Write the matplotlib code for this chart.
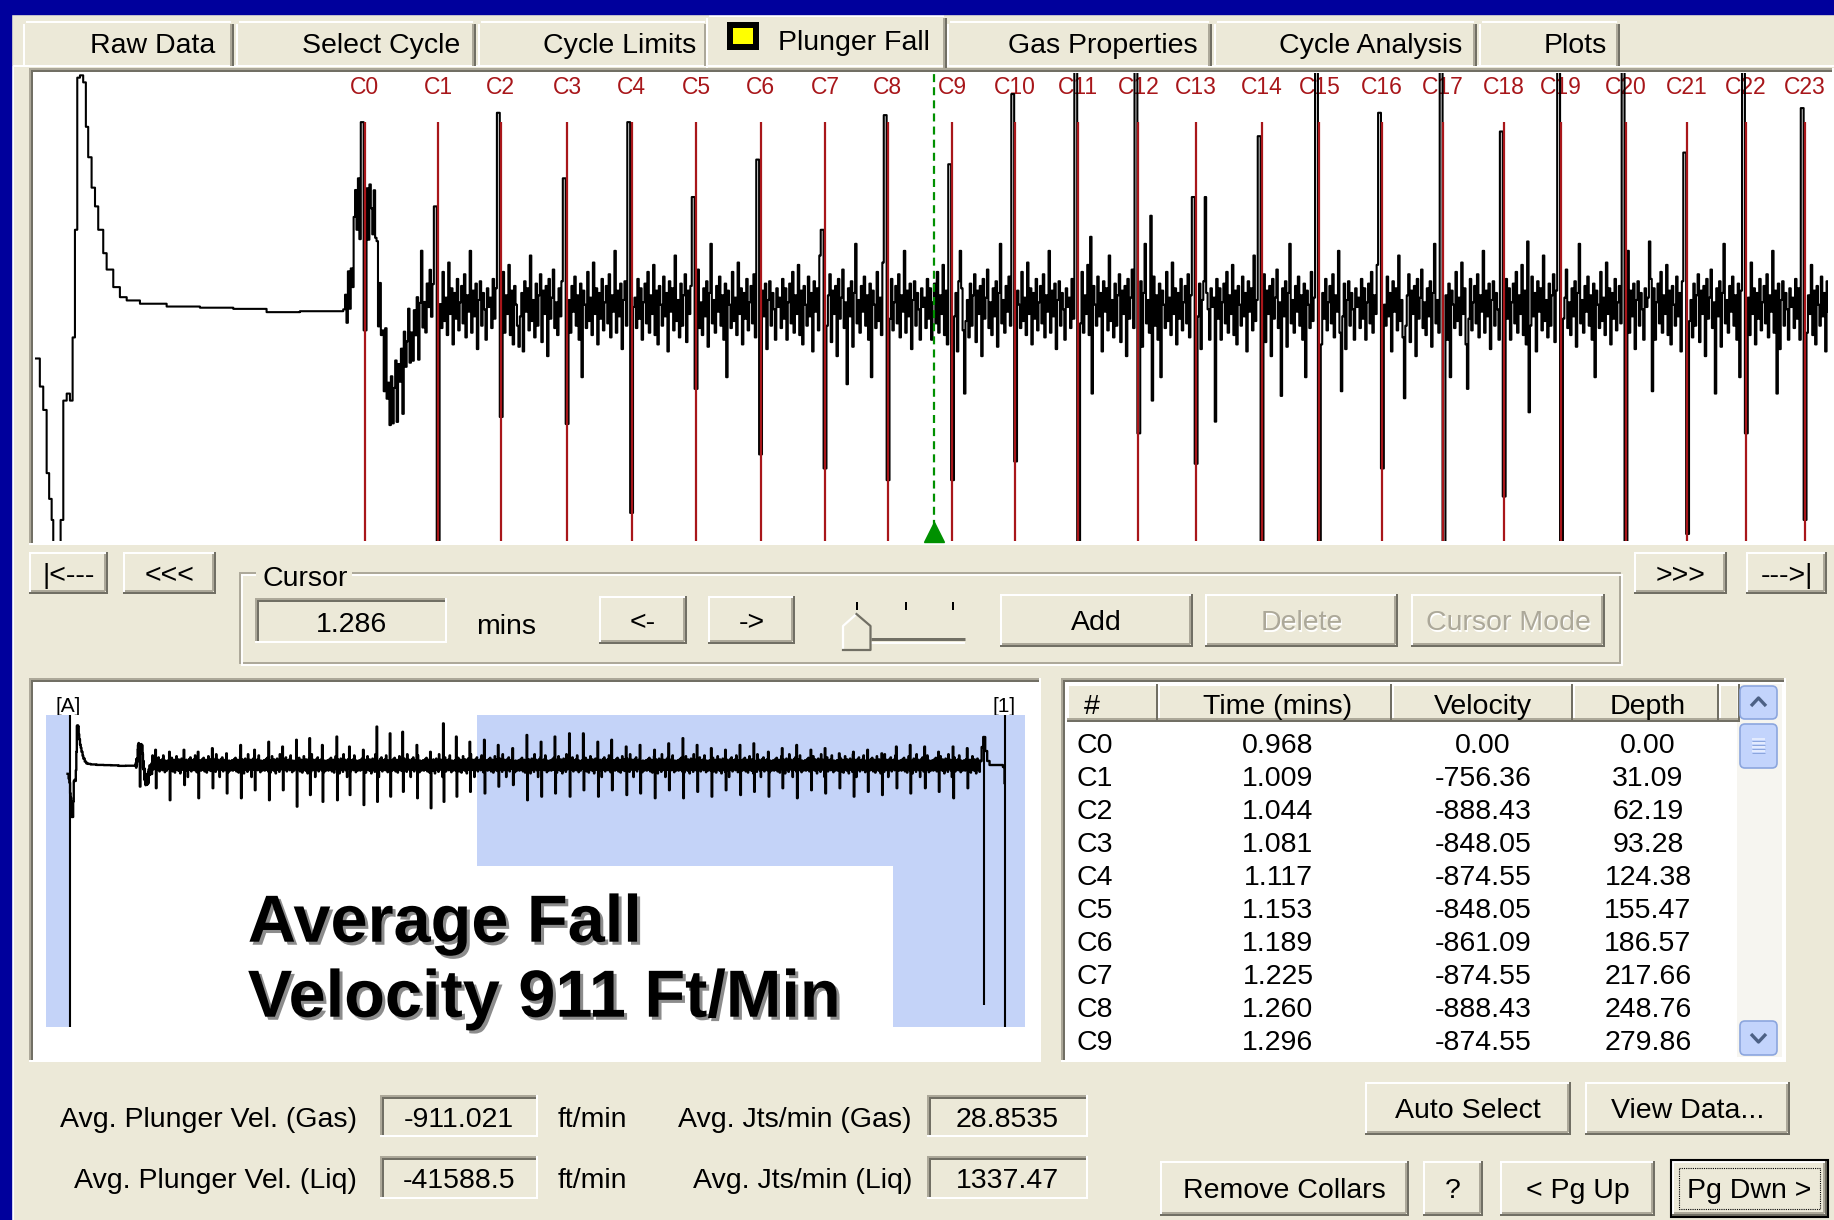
#!/usr/bin/env python3

import numpy as np
import matplotlib
matplotlib.use("Agg")
import matplotlib.pyplot as plt
from matplotlib.patches import Rectangle, Polygon, FancyBboxPatch
from matplotlib import patheffects

plt.rcParams["font.family"] = ["Liberation Sans", "DejaVu Sans"]

W, H = 1834, 1220

FACE = "#ECE9D8"
FRAME_BLUE = "#00009C"
SHADOW = "#ACA899"
DARK = "#716F64"
COLLAR_RED = "#A8161A"
CURSOR_GREEN = "#009000"
SELECT_BLUE = "#C4D3F8"
DISABLED = "#ACA899"
UI_SIZE = 20.5

TAB_LABELS = ["Raw Data", "Select Cycle", "Cycle Limits", "Plunger Fall",
              "Gas Properties", "Cycle Analysis", "Plots"]
ACTIVE_TAB = 3

# collar picks on the acoustic trace (mins); spike peaks in trace units
COLLAR_TIMES = [0.968, 1.009, 1.044, 1.081, 1.117, 1.153, 1.189, 1.225, 1.260, 1.296,
                1.331, 1.366, 1.400, 1.432, 1.469, 1.501, 1.536, 1.570, 1.604, 1.636,
                1.672, 1.706, 1.739, 1.772]
COLLAR_UP = [0.79, 0.43, 0.83, 0.55, 0.79, 0.47, 0.63, 0.33, 0.82, 0.61,
             0.91, 1.05, 1.05, 0.47, 0.73, 1.05, 0.83, 1.05, 0.75, 1.05,
             1.05, 0.66, 1.05, 0.85]
COLLAR_DOWN = [-0.10, -1.05, -0.47, -0.50, -0.88, -0.35, -0.63, -0.69, -0.74, -0.74,
               -0.66, -1.05, -0.54, -0.67, -1.05, -1.05, -0.69, -1.05, -0.81, -1.05,
               -1.05, -0.97, -0.54, -0.91]
CURSOR_TIME = 1.286

# trace before the first collar: shut-in dip, arrival kick, flat fall
PRE_T = [0.7839, 0.7866, 0.7885, 0.7904, 0.7918, 0.7932, 0.7941, 0.7960, 0.7982, 0.7997,
         0.8016, 0.8034, 0.8049, 0.8062, 0.8075, 0.8090, 0.8108, 0.8123, 0.8136, 0.8155,
         0.8174, 0.8192, 0.8220, 0.8239, 0.8276, 0.8313, 0.8351, 0.8425, 0.8574, 0.8760,
         0.8946, 0.9132, 0.9318, 0.9504, 0.9560]
PRE_V = [-0.22, -0.34, -0.44, -0.71, -0.82, -0.91, -1.30, -1.30, -0.91, -0.40,
         -0.37, -0.40, -0.13, 0.33, 0.98, 0.99, 0.96, 0.77, 0.64, 0.51,
         0.43, 0.33, 0.23, 0.16, 0.085, 0.042, 0.028, 0.014, 0.002, -0.003,
         -0.008, -0.022, -0.018, -0.018, -0.010]

# slow baseline wander around the first collar
DRIFT_T = [0.956, 0.960, 0.962, 0.966, 0.970, 0.9737, 0.9765, 0.979, 0.9835, 0.987,
           0.990, 0.995, 1.000, 1.006, 1.010, 3.200]
DRIFT_V = [0.0, 0.05, 0.40, 0.40, 0.45, 0.35, -0.05, -0.30, -0.42, -0.30,
           -0.22, -0.10, -0.02, 0.05, 0.0, 0.0]

# background chatter between collars
NOISE = [0.04, -0.09, 0.12, -0.05, 0.08, -0.14, 0.02, 0.10, -0.07, 0.15,
         -0.11, 0.05, -0.03, 0.18, -0.12, 0.07, -0.16, 0.09, 0.01, -0.08,
         0.13, -0.04, 0.06, -0.19, 0.11, -0.02, 0.08, -0.10, 0.22, -0.06,
         0.03, -0.13, 0.10, -0.08, 0.05, 0.14, -0.15, 0.07, -0.03, 0.09,
         -0.21, 0.12, -0.05, 0.04, 0.16, -0.09, 0.02, -0.12, 0.08, -0.04,
         0.11, -0.17, 0.06, 0.27, -0.07, 0.03, -0.11, 0.09, -0.02, 0.13,
         -0.08, 0.05, -0.14, 0.10, -0.30, 0.07, 0.01, -0.09, 0.15, -0.06,
         0.04, -0.12, 0.19, -0.03, 0.08, -0.16, 0.06, -0.05, 0.12, -0.10,
         0.02, 0.09, -0.07, 0.14, -0.13, 0.05, -0.02, 0.24, -0.11, 0.07,
         -0.04, 0.10, -0.18, 0.03, 0.11, -0.08, 0.06, -0.01, -0.14, 0.08, 0.0]

# isolated echoes between collars
ECHO_T = [1.0533, 1.2364, 1.300, 1.302, 1.3725, 1.3738, 1.4060, 1.4073, 1.4368, 1.4425,
          1.4791, 1.5127, 1.5476, 1.5828, 1.6163, 1.6177, 1.6850, 1.6864, 1.7217, 1.756]
ECHO_V = [-0.17, -0.33, 0.24, -0.37, 0.30, -0.37, 0.39, -0.40, 0.47, -0.49,
          -0.38, -0.36, -0.39, -0.35, 0.28, -0.45, 0.28, -0.36, -0.37, -0.37]

# whole-fall overview: later collars and their spike heights
OV_LATER_TIMES = [1.806, 1.843, 1.878, 1.915, 1.951, 1.987, 2.022, 2.059, 2.094, 2.131,
                  2.166, 2.203, 2.238, 2.275, 2.311, 2.347, 2.383, 2.419, 2.455, 2.492,
                  2.527, 2.564, 2.599, 2.636, 2.672, 2.708, 2.744, 2.780, 2.816, 2.852,
                  2.889, 2.924, 2.961, 2.996, 3.033, 3.069]
OV_UP = [0.50, 0.38, 0.33, 0.38, 0.33, 0.42, 0.29, 0.50, 0.38, 0.58,
         0.46, 0.63, 0.67, 0.50, 0.71, 0.46, 0.38, 0.96, 0.79, 0.83,
         0.50, 0.33, 1.04, 0.71, 0.58, 0.63, 0.50, 0.42, 0.75, 0.58,
         0.71, 0.79, 0.79, 0.58, 0.63, 0.46, 0.50, 0.38, 0.54, 0.67,
         0.50, 0.42, 0.38, 0.50, 0.54, 0.33, 0.42, 0.50, 0.38, 0.42,
         0.29, 0.33, 0.38, 0.29, 0.46, 0.50, 0.46, 0.33, 0.46, 0.42]
OV_DOWN = [-0.54, -0.58, -0.88, -0.50, -0.83, -0.58, -0.71, -0.83, -0.63, -0.88,
           -0.63, -1.04, -0.75, -0.92, -0.88, -0.75, -1.00, -0.92, -0.79, -0.67,
           -0.83, -1.08, -0.92, -0.79, -0.67, -0.71, -0.54, -0.50, -0.88, -0.79,
           -0.71, -0.79, -0.63, -0.79, -0.63, -0.75, -0.71, -0.83, -0.63, -0.83,
           -0.67, -0.79, -0.63, -0.75, -0.67, -0.79, -0.58, -0.83, -0.63, -0.71,
           -0.58, -0.79, -0.67, -0.75, -0.58, -0.71, -0.58, -0.67, -0.83, -0.58]
OV_END_T = [3.100, 3.104, 3.108, 3.113, 3.118, 3.124, 3.158, 3.162]
OV_END_V = [0.10, 0.45, 0.70, 0.35, 0.10, 0.0, -0.05, -0.45]
MARK_A = 0.791
MARK_1 = 3.162
ARRIVAL_T = 3.111
OV_SELECT_START = 1.824

# collar table
TABLE_HEADERS = ["#", "Time (mins)", "Velocity", "Depth"]
TABLE_VELOCITY = [0.00, -756.36, -888.43, -848.05, -874.55, -848.05, -861.09, -874.55, -888.43, -874.55]
TABLE_DEPTH = [0.00, 31.09, 62.19, 93.28, 124.38, 155.47, 186.57, 217.66, 248.76, 279.86]

# summary fields
AVG_VEL_GAS = -911.021
AVG_VEL_LIQ = -41588.5
AVG_JTS_GAS = 28.8535
AVG_JTS_LIQ = 1337.47

GRID_START = 0.957
SAMPLE_DT = 0.0008


def collar_trace(t_end, collar_t, ups, downs, echo_t=(), echo_v=()):
    t = np.arange(GRID_START, t_end, SAMPLE_DT)
    v = np.resize(np.array(NOISE), t.size) + np.interp(t, DRIFT_T, DRIFT_V)
    for tc, up, dn in zip(collar_t, ups, downs):
        i = np.searchsorted(t, tc)
        v[i - 3:i - 1] = up
        v[i - 1:i + 1] = dn
    for te, ve in zip(echo_t, echo_v):
        v[np.searchsorted(t, te)] = ve
    return np.concatenate([PRE_T, t]), np.concatenate([PRE_V, v])


def px_axes(fig, x0, y0, x1, y1):
    return fig.add_axes([x0 / W, 1 - y1 / H, (x1 - x0) / W, (y1 - y0) / H])


def bare(ax, face):
    ax.set_facecolor(face)
    ax.set_xticks([])
    ax.set_yticks([])
    for s in ax.spines.values():
        s.set_visible(False)


def seg(ax, x0, y0, x1, y1, color, px=2, z=2):
    ax.plot([x0, x1], [y0, y1], color=color, lw=px * 0.72, solid_capstyle="butt", zorder=z)


def label(ax, x, y, s, ha="center", color="black", size=UI_SIZE, **kw):
    ax.text(x, y, s, ha=ha, va="center_baseline", color=color, fontsize=size, zorder=5, **kw)


def button(ax, x0, y0, x1, y1, text="", enabled=True, default=False):
    ax.add_patch(Rectangle((x0, y0), x1 - x0, y1 - y0, facecolor=FACE, edgecolor="none", zorder=1))
    seg(ax, x0, y0 + 1, x1 - 2, y0 + 1, "white")
    seg(ax, x0 + 1, y0, x0 + 1, y1 - 2, "white")
    seg(ax, x0 + 2, y1 - 3, x1 - 3, y1 - 3, SHADOW)
    seg(ax, x1 - 3, y0 + 2, x1 - 3, y1 - 3, SHADOW)
    seg(ax, x0, y1 - 1, x1, y1 - 1, DARK)
    seg(ax, x1 - 1, y0, x1 - 1, y1, DARK)
    if default:
        ax.add_patch(Rectangle((x0 - 1, y0 - 1), x1 - x0 + 2, y1 - y0 + 2, fill=False,
                               edgecolor="black", lw=1.5, zorder=3))
        ax.add_patch(Rectangle((x0 + 7, y0 + 7), x1 - x0 - 14, y1 - y0 - 14, fill=False,
                               edgecolor="black", lw=0.8, ls=(0, (1, 1)), zorder=3))
    cx, cy = (x0 + x1) / 2, (y0 + y1) / 2
    if enabled:
        label(ax, cx, cy, text)
    else:
        label(ax, cx + 1.5, cy + 1.5, text, color="white")
        label(ax, cx, cy, text, color=DISABLED)


def sunken(ax, x0, y0, x1, y1, face=FACE, text=None):
    ax.add_patch(Rectangle((x0, y0), x1 - x0, y1 - y0, facecolor=face, edgecolor="none", zorder=1))
    seg(ax, x0, y0 + 1, x1, y0 + 1, SHADOW)
    seg(ax, x0 + 1, y0, x0 + 1, y1, SHADOW)
    seg(ax, x0 + 2, y0 + 3, x1 - 2, y0 + 3, DARK)
    seg(ax, x0 + 3, y0 + 2, x0 + 3, y1 - 2, DARK)
    seg(ax, x0, y1 - 1, x1, y1 - 1, "white")
    seg(ax, x1 - 1, y0, x1 - 1, y1, "white")
    if text is not None:
        label(ax, (x0 + x1) / 2, (y0 + y1) / 2 + 1, text)


def main():
    fig = plt.figure(figsize=(W / 100, H / 100), dpi=100, facecolor=FACE)
    ui = fig.add_axes([0, 0, 1, 1])
    ui.set_xlim(0, W)
    ui.set_ylim(H, 0)
    ui.axis("off")

    # window edge
    ui.add_patch(Rectangle((0, 0), 11, H, color=FRAME_BLUE, zorder=6))
    ui.add_patch(Rectangle((0, 0), W, 14, color=FRAME_BLUE, zorder=6))
    seg(ui, 13, 66, 13, H, "white")

    # tab strip
    tab_edges = [(23, 234), (236, 476), (478, 708), (706, 947), (947, 1212), (1214, 1477), (1479, 1620)]
    tab_text_x = [153, 381, 620, 851, 1103, 1371, 1575]
    seg(ui, 13, 66, W, 66, "white")
    order = [i for i in range(len(TAB_LABELS)) if i != ACTIVE_TAB] + [ACTIVE_TAB]
    for i in order:
        x0, x1 = tab_edges[i]
        top = 15 if i == ACTIVE_TAB else 21
        bottom = 68 if i == ACTIVE_TAB else 66
        ui.add_patch(Rectangle((x0, top), x1 - x0, bottom - top, facecolor=FACE, edgecolor="none", zorder=1))
        seg(ui, x0 + 3, top + 1, x1 - 3, top + 1, "white")
        seg(ui, x0 + 1, top + 3, x0 + 1, bottom, "white")
        seg(ui, x1 - 3, top + 3, x1 - 3, bottom, SHADOW)
        seg(ui, x1 - 1, top + 3, x1 - 1, bottom, DARK)
        ty = 40 if i == ACTIVE_TAB else 43
        if i == ACTIVE_TAB:
            ui.add_patch(Rectangle((727, 22), 32, 28, facecolor="black", zorder=3))
            ui.add_patch(Rectangle((733, 28), 20, 16, facecolor="#FFFF00", zorder=4))
            label(ui, 778, ty, TAB_LABELS[i], ha="left")
        else:
            label(ui, tab_text_x[i], ty, TAB_LABELS[i])

    # trace window frame
    sunken(ui, 29, 68, 1834, 545, face="white")

    # navigation row and cursor group
    button(ui, 29, 552, 108, 594, "|<---")
    button(ui, 123, 552, 216, 594, "<<<")
    button(ui, 1634, 552, 1727, 594, ">>>")
    button(ui, 1746, 552, 1827, 594, "--->|")

    ui.add_patch(Rectangle((240, 573), 1380, 90, fill=False, edgecolor=SHADOW, lw=1.4, zorder=2))
    ui.add_patch(Rectangle((242, 575), 1380, 90, fill=False, edgecolor="white", lw=1.4, zorder=2))
    ui.add_patch(Rectangle((256, 562), 96, 24, facecolor=FACE, edgecolor="none", zorder=3))
    label(ui, 263, 576, "Cursor", ha="left")

    sunken(ui, 255, 598, 447, 643, text=f"{CURSOR_TIME:.3f}")
    label(ui, 476, 624, "mins", ha="left")
    button(ui, 599, 596, 687, 644, "<-")
    button(ui, 708, 596, 795, 644, "->")

    # trackbar
    for tx in (857, 906, 953):
        seg(ui, tx, 602, tx, 610, "black")
    seg(ui, 871, 639, 965, 639, DARK, 3)
    seg(ui, 871, 642.5, 965, 642.5, "white", 2)
    ui.add_patch(Polygon([(843, 650), (843, 626), (856.5, 614), (870.5, 626), (870.5, 650)],
                         facecolor=FACE, edgecolor="none", zorder=3))
    ui.plot([843, 843, 856.5], [650, 626, 614], color="white", lw=1.6, zorder=4)
    ui.plot([856.5, 870.5, 870.5, 843], [614, 626, 650, 650], color=DARK, lw=1.6, zorder=4)

    button(ui, 1000, 594, 1193, 647, "Add")
    button(ui, 1205, 594, 1398, 647, "Delete", enabled=False)
    button(ui, 1411, 594, 1605, 647, "Cursor Mode", enabled=False)

    # overview panel
    sunken(ui, 29, 678, 1041, 1062, face="white")
    label(ui, 68, 704, "[A]", size=15)
    label(ui, 1004, 704, "[1]", size=15)

    # collar table
    sunken(ui, 1061, 678, 1786, 1062, face="white")
    cols = [(1067, 1158), (1158, 1392), (1392, 1573), (1573, 1719), (1719, 1740)]
    for x0, x1 in cols:
        ui.add_patch(Rectangle((x0, 684), x1 - x0, 38, facecolor=FACE, edgecolor="none", zorder=1))
        seg(ui, x0, 685, x1, 685, "white")
        seg(ui, x0 + 1, 684, x0 + 1, 722, "white")
        seg(ui, x1 - 1, 684, x1 - 1, 722, DARK)
        seg(ui, x0, 721, x1, 721, DARK)
        seg(ui, x0, 719, x1 - 2, 719, SHADOW)
    col_x = [1084, 1278, 1483, 1648]
    label(ui, col_x[0], 704, TABLE_HEADERS[0], ha="left")
    for cx, h in zip(col_x[1:], TABLE_HEADERS[1:]):
        label(ui, cx, 704, h)
    for i, (tc, vel, dep) in enumerate(zip(COLLAR_TIMES[:10], TABLE_VELOCITY, TABLE_DEPTH)):
        ry = 743 + i * 33.0
        label(ui, 1077, ry, f"C{i}", ha="left")
        label(ui, col_x[1], ry, f"{tc:.3f}")
        label(ui, col_x[2], ry, f"{vel:.2f}")
        label(ui, col_x[3], ry, f"{dep:.2f}")

    # scrollbar
    ui.add_patch(Rectangle((1737, 684), 45, 373, facecolor="#F6F5F0", edgecolor="none", zorder=1))
    for y0, h in ((686, 33), (724, 44), (1021, 34)):
        ui.add_patch(FancyBboxPatch((1740, y0), 37, h, boxstyle="round,pad=0,rounding_size=5",
                                    facecolor="#C3D4FC", edgecolor="#8CA6DE", lw=1.2, zorder=2))
    ui.plot([1751, 1758.5, 1766], [706, 698, 706], color="#4D6185", lw=2.4, zorder=3,
            solid_capstyle="butt")
    ui.plot([1751, 1758.5, 1766], [1034, 1042, 1034], color="#4D6185", lw=2.4, zorder=3,
            solid_capstyle="butt")
    for gy in (739, 743, 747, 751):
        seg(ui, 1752, gy, 1765, gy, "#EEF3FF", 1.5, z=3)
        seg(ui, 1752, gy + 1.5, 1765, gy + 1.5, "#8CA6DE", 1, z=3)

    # summary fields
    for ry, y0, y1, tag, vel, jts in ((1117, 1095, 1137, "Gas", AVG_VEL_GAS, AVG_JTS_GAS),
                                      (1178, 1156, 1199, "Liq", AVG_VEL_LIQ, AVG_JTS_LIQ)):
        label(ui, 357, ry, f"Avg. Plunger Vel. ({tag})", ha="right")
        sunken(ui, 380, y0, 538, y1, text=f"{vel:g}")
        label(ui, 558, ry, "ft/min", ha="left")
        label(ui, 912, ry, f"Avg. Jts/min ({tag})", ha="right")
        sunken(ui, 927, y0, 1088, y1, text=f"{jts:g}")

    button(ui, 1365, 1082, 1571, 1135, "Auto Select")
    button(ui, 1585, 1082, 1790, 1135, "View Data...")
    button(ui, 1160, 1161, 1409, 1216, "Remove Collars")
    button(ui, 1423, 1161, 1483, 1216, "?")
    button(ui, 1500, 1161, 1655, 1216, "< Pg Up")
    button(ui, 1672, 1161, 1827, 1216, "Pg Dwn >", default=True)

    # acoustic trace with collar picks
    ax = px_axes(fig, 35, 73, 1828, 541)
    bare(ax, "white")
    t, v = collar_trace(1.79, COLLAR_TIMES, COLLAR_UP, COLLAR_DOWN, ECHO_T, ECHO_V)
    ax.plot(t, v, color="black", lw=1.5, drawstyle="steps-post", zorder=2)
    ax.vlines(COLLAR_TIMES, -1, 0.79, color=COLLAR_RED, lw=1.6, zorder=3)
    for i, tc in enumerate(COLLAR_TIMES):
        ax.text(tc, 0.94, f"C{i}", ha="center", va="center", fontsize=16.5,
                color=COLLAR_RED, zorder=1)
    ax.axvline(CURSOR_TIME, color=CURSOR_GREEN, lw=1.6, ls=(0, (3.6, 2.3)), zorder=4)
    ax.plot(CURSOR_TIME, -0.962, marker="^", ms=14, color=CURSOR_GREEN, zorder=5, clip_on=False)
    ax.set_xlim(0.7839, 1.785)
    ax.set_ylim(-1, 1)

    # whole-fall overview with selection shading
    ov = px_axes(fig, 45.5, 715, 1024.6, 1027)
    bare(ov, "white")
    ov.axvspan(0.728, MARK_A, color=SELECT_BLUE, lw=0, zorder=0)
    ov.axvspan(OV_SELECT_START, 3.213, color=SELECT_BLUE, lw=0, zorder=0)
    ot, ovv = collar_trace(3.100, COLLAR_TIMES + OV_LATER_TIMES, OV_UP, OV_DOWN)
    ot = np.concatenate([ot, OV_END_T])
    ovv = np.concatenate([ovv, OV_END_V])
    ov.plot(ot, ovv, color="black", lw=1.7, drawstyle="steps-post", zorder=2)
    ov.axvline(MARK_A, color="black", lw=1.5, zorder=3)
    ov.axvline(MARK_1, color="black", lw=1.5, zorder=3)
    ov.vlines(ARRIVAL_T, -6.0, 0.71, color="black", lw=1.5, zorder=3)
    ov.set_xlim(0.728, 3.213)
    ov.set_ylim(-6.55, 1.25)

    # headline box over the overview
    top = fig.add_axes([0, 0, 1, 1])
    top.set_xlim(0, W)
    top.set_ylim(H, 0)
    top.axis("off")
    top.add_patch(Rectangle((230, 866), 662.7, 161, facecolor="white", edgecolor="none"))
    shadow = [patheffects.withSimplePatchShadow(offset=(2.2, -2.2), shadow_rgbFace="#808080", alpha=0.9)]
    top.text(247.8, 941.7, "Average Fall", fontsize=48, fontweight="bold", ha="left",
             va="baseline", path_effects=shadow)
    top.text(247.8, 1016.7, f"Velocity {round(abs(AVG_VEL_GAS))} Ft/Min", fontsize=48,
             fontweight="bold", ha="left", va="baseline", path_effects=shadow)

    fig.savefig("out.png", dpi=100)
    plt.close(fig)


if __name__ == "__main__":
    main()
